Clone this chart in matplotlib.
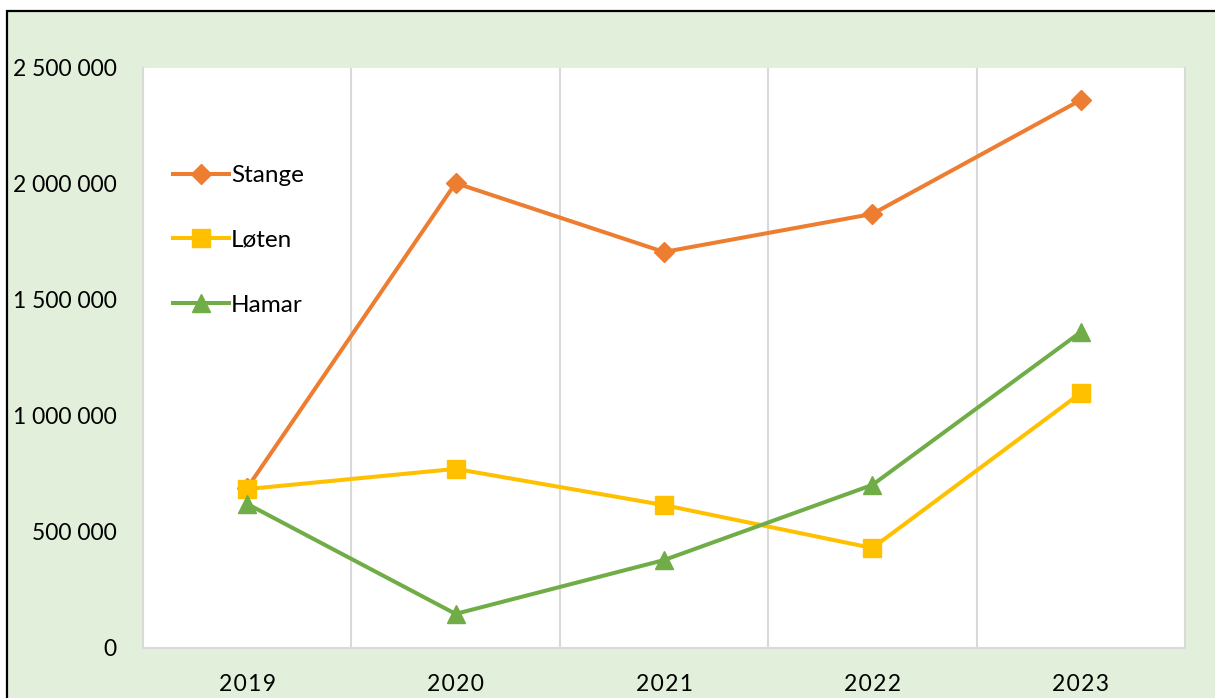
import matplotlib
matplotlib.use("Agg")
import matplotlib.pyplot as plt
from matplotlib.patches import Rectangle
from matplotlib.ticker import FuncFormatter

years = ["2019", "2020", "2021", "2022", "2023"]
stange = [690000, 2004000, 1707000, 1871000, 2362000]
loten = [685000, 772000, 616000, 431000, 1099000]
hamar = [621000, 147000, 379000, 703000, 1362000]
yticks = [0, 500000, 1000000, 1500000, 2000000, 2500000]

plt.rcParams['font.family'] = ['Lato', 'DejaVu Sans']

W, H = 1215, 698
fig = plt.figure(figsize=(W / 100, H / 100), dpi=100, facecolor='white')

# green chart area with black border (cropped at right/bottom)
bg = Rectangle((7 / W, -0.05), 1.1, (H - 11) / H + 0.05, transform=fig.transFigure,
               facecolor='#E2EFDA', edgecolor='black', linewidth=1.6, zorder=-10)
fig.patches.append(bg)

ax = fig.add_axes([143 / W, (H - 648) / H, (1185 - 143) / W, (648 - 68) / H])
ax.set_zorder(5)
ax.set_facecolor('white')

x = list(range(len(years)))
ax.plot(x, stange, color='#ED7D31', lw=2.9, marker='D', markersize=10, label='Stange', zorder=3)
ax.plot(x, loten, color='#FFC000', lw=2.9, marker='s', markersize=12.5, label='Løten', zorder=3)
ax.plot(x, hamar, color='#70AD47', lw=2.9, marker='^', markersize=13, label='Hamar', zorder=3)

ax.set_xlim(-0.5, len(years) - 0.5)
ax.set_ylim(0, 2500000)
ax.set_xticks(x)
ax.set_xticklabels(["\u200a".join(y) for y in years])
ax.set_xticks([i + 0.5 for i in x[:-1]], minor=True)
ax.grid(True, which='minor', axis='x', color='#D9D9D9', lw=1.5)
ax.grid(False, which='major')
ax.set_yticks(yticks)
ax.yaxis.set_major_formatter(FuncFormatter(lambda v, p: f"{int(v):,}".replace(",", " ")))

ax.tick_params(axis='both', which='both', length=0, labelsize=16.5, colors='black')
ax.tick_params(axis='y', pad=19)
ax.tick_params(axis='x', pad=19)

for s in ['left', 'right', 'bottom']:
    ax.spines[s].set_color('#D9D9D9')
    ax.spines[s].set_linewidth(1.5)
ax.spines['top'].set_visible(False)

leg = ax.legend(loc='upper left', bbox_to_anchor=(173 / W, (H - 165) / H),
                bbox_transform=fig.transFigure, frameon=False, fontsize=17.5,
                handlelength=2.3, handletextpad=0.08, labelspacing=1.8,
                borderpad=0, borderaxespad=0)

fig.savefig('out.png', dpi=100, facecolor=fig.get_facecolor())
